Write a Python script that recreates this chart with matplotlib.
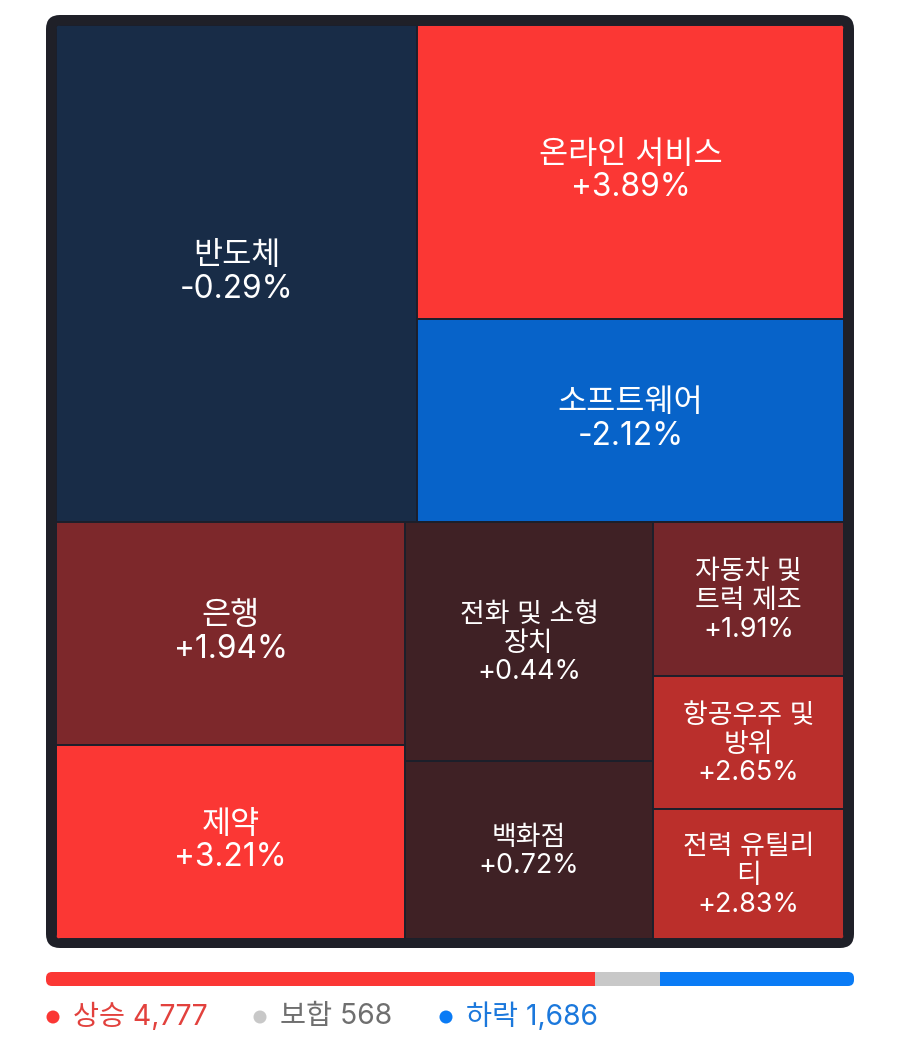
import matplotlib
matplotlib.use('agg')
import matplotlib.pyplot as plt
from matplotlib.patches import FancyBboxPatch, Rectangle, Circle

plt.rcParams['font.family'] = ['Inter', 'Noto Sans CJK KR', 'DejaVu Sans']

# sector name, change in %, block area (same order everywhere)
sectors = ["반도체", "온라인 서비스", "소프트웨어", "은행", "제약",
           "전화 및 소형\n장치", "백화점", "자동차 및\n트럭 제조", "항공우주 및\n방위", "전력 유틸리\n티"]
changes = ["-0.29%", "+3.89%", "-2.12%", "+1.94%", "+3.21%",
           "+0.44%", "+0.72%", "+1.91%", "+2.65%", "+2.83%"]
weights = [179.4, 125.5, 86.7, 77.8, 67.7, 59.3, 44.1, 29.4, 25.4, 24.8]
colors = ["#182c47", "#fb3734", "#0763c9", "#7d282b", "#fb3734",
          "#3f2125", "#3f2125", "#74262a", "#ba2f2c", "#bb2f2b"]
large = [True, True, True, True, True, False, False, False, False, False]

# how the blocks nest: rows of columns of indices
layout = [[[0], [1, 2]], [[3, 4], [5, 6], [7, 8, 9]]]

stat_labels = ["상승", "보합", "하락"]
stat_counts = [4777, 568, 1686]
stat_colors = ["#fb3734", "#c8c8c8", "#0a7bf5"]
stat_text = ["#e2413d", "#6f6f6f", "#1b78dc"]
stat_x = [53, 260, 446]


def draw_block(ax, i, x, y, w, h, clip):
    rect = Rectangle((x, y), w, h, facecolor=colors[i], edgecolor="#1c1f2b", lw=1.4, zorder=2)
    ax.add_patch(rect)
    rect.set_clip_path(clip)
    size = 22.8 if large[i] else 19.4
    spacing = 1.1 if large[i] else 1.13
    shift = -1 if large[i] else 2
    ax.text(x + w / 2, y + h / 2 + shift, sectors[i] + "\n" + changes[i], color="white", fontsize=size,
            ha="center", va="center", multialignment="center", linespacing=spacing, zorder=3)


def main():
    fig = plt.figure(figsize=(9, 10.48), dpi=100)
    ax = fig.add_axes([0, 0, 1, 1])
    ax.set_xlim(0, 900)
    ax.set_ylim(1048, 0)
    ax.axis("off")

    # dark frame
    ax.add_patch(FancyBboxPatch((46 + 14, 15 + 14), 808 - 28, 933 - 28, boxstyle="round,pad=14,rounding_size=14",
                                facecolor="#1f2028", edgecolor="none", zorder=1))

    left, top, width, height = 56, 25, 788, 914
    inner = FancyBboxPatch((left + 5, top + 5), width - 10, height - 10, boxstyle="round,pad=5,rounding_size=5",
                           facecolor="none", edgecolor="none", transform=ax.transData)
    ax.add_patch(inner)
    total = sum(weights)
    y = top
    for row in layout:
        row_w = sum(weights[i] for col in row for i in col)
        row_h = height * row_w / total
        x = left
        for col in row:
            col_w = sum(weights[i] for i in col)
            w = width * col_w / row_w
            yy = y
            for i in col:
                h = row_h * weights[i] / col_w
                draw_block(ax, i, x, yy, w, h, inner)
                yy += h
            x += w
        y += row_h

    # summary bar
    clip = FancyBboxPatch((46 + 6, 972 + 6), 808 - 12, 14 - 12, boxstyle="round,pad=6,rounding_size=6",
                          facecolor="none", edgecolor="none", transform=ax.transData)
    ax.add_patch(clip)
    scale = 808 / sum(stat_counts)
    start = 46
    for count, color in zip(stat_counts, stat_colors):
        bars = ax.barh(979, count * scale, height=14, left=start, color=color, zorder=2)
        bars[0].set_clip_path(clip)
        start += count * scale

    # legend
    for label, count, dot, tc, x in zip(stat_labels, stat_counts, stat_colors, stat_text, stat_x):
        ax.add_patch(Circle((x, 1017), 6.5, facecolor=dot, edgecolor="none", zorder=2))
        ax.text(x + 20, 1017, f"{label} {count:,}", color=tc, fontsize=20.4, ha="left", va="center", zorder=3)

    fig.savefig("out.png", dpi=100, facecolor="white")


if "__main__" == __name__:
    main()
